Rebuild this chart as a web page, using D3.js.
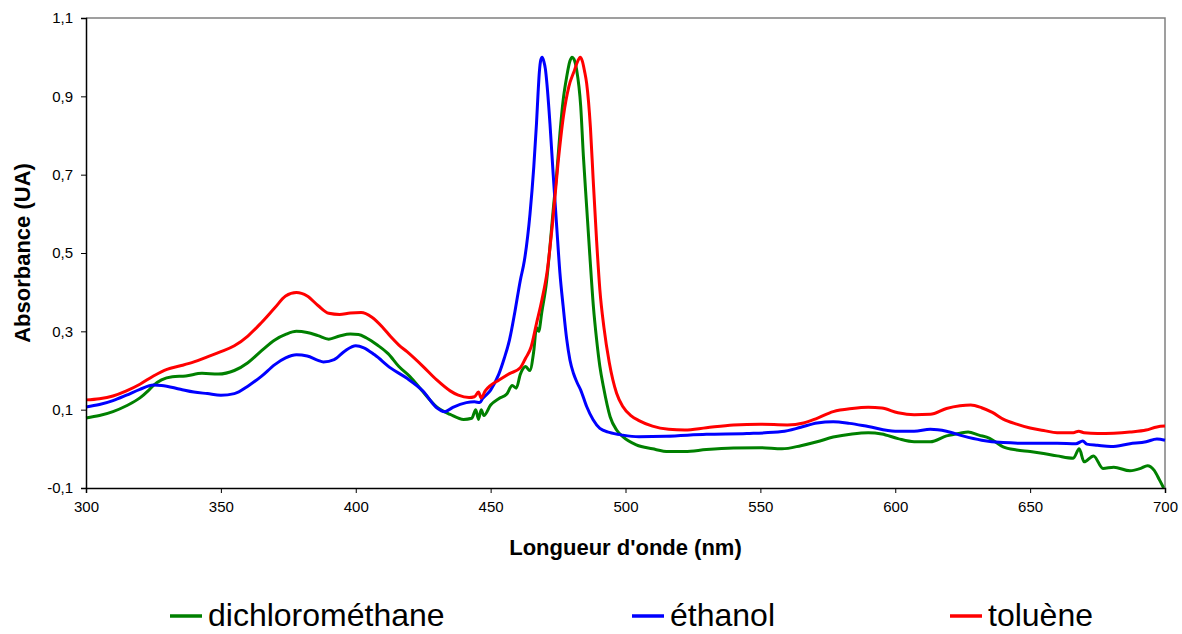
<!DOCTYPE html>
<html>
<head>
<meta charset="utf-8">
<script src="https://cdnjs.cloudflare.com/ajax/libs/d3/7.8.5/d3.min.js"></script>
<style>
    body { margin: 0; background: #fff; }
    svg { font-family: Arial, "Liberation Sans", sans-serif; }
    .tick text { font-size: 15px; fill: #000; }
    .axis-title { font-size: 22px; font-weight: bold; }
    .legend text { font-size: 32px; }
    .spectrum { fill: none; stroke-width: 3; stroke-linejoin: round; }
</style>
</head>
<body>
<div id="chart"></div>
<script>
    // [longueur d'onde (nm), absorbance (UA)]
    const dichloromethane = [
        [300,0.079],[305,0.085],[310,0.095],[315,0.11],[320,0.13],[323,0.148],[325,0.162],[328,0.176],
        [332,0.184],[337,0.186],[343,0.193],[349,0.191],[355,0.2],[360,0.22],[365,0.25],[370,0.278],
        [374,0.292],[378,0.3],[382,0.297],[386,0.289],[390,0.28],[394,0.288],[398,0.293],[401,0.292],
        [404,0.283],[408,0.265],[412,0.243],[416,0.21],[420,0.185],[425,0.145],[430,0.107],[435,0.088],
        [440,0.075],[443,0.078],[444.5,0.1],[445.5,0.075],[446.5,0.1],[447.5,0.085],[450,0.112],
        [453,0.128],[456,0.14],[458,0.162],[459.5,0.155],[461,0.19],[463,0.21],[464.5,0.2],[466,0.25],
        [467,0.31],[467.8,0.3],[469,0.35],[470.8,0.431],[472,0.516],[473.2,0.61],[474.5,0.703],
        [475.7,0.806],[476.9,0.891],[478.2,0.95],[479.4,0.99],[480.2,1.0],[480.9,0.995],[481.9,0.967],
        [483.4,0.874],[484.4,0.746],[485.6,0.618],[486.8,0.491],[488.1,0.363],[489.3,0.278],[490.5,0.21],
        [491.8,0.159],[494.3,0.082],[496.7,0.048],[499,0.031],[504,0.01],[510,0.0],[516,-0.007],
        [522,-0.007],[530,-0.002],[540,0.002],[550,0.003],[558,0.0],[565,0.008],[571,0.018],[577,0.03],
        [584,0.038],[590,0.041],[595,0.038],[601,0.026],[607,0.018],[613,0.018],[619,0.033],[624,0.04],
        [627,0.043],[631,0.035],[635,0.027],[640,0.005],[645,-0.003],[650,-0.007],[655,-0.012],
        [660,-0.018],[666,-0.024],[668.2,0.0],[670,-0.033],[673.5,-0.018],[677,-0.05],[681,-0.047],
        [687,-0.056],[691,-0.05],[693.5,-0.043],[696,-0.055],[698,-0.08],[699.5,-0.1]
    ];

    const ethanol = [
        [300,0.107],[305,0.113],[310,0.123],[315,0.137],[320,0.152],[325,0.163],[328,0.162],[335,0.152],
        [340,0.145],[345,0.141],[350,0.137],[355,0.141],[360,0.16],[365,0.185],[370,0.215],[374,0.232],
        [378,0.24],[382,0.237],[386,0.226],[388,0.222],[392,0.228],[396,0.25],[400,0.263],[403,0.258],
        [407,0.24],[413,0.206],[419,0.18],[425,0.147],[430,0.105],[433,0.095],[436,0.106],[441,0.118],
        [444,0.12],[446,0.118],[447,0.128],[450,0.15],[453,0.19],[455,0.23],[457,0.278],[459,0.35],
        [461,0.43],[462.5,0.48],[464.6,0.6],[466,0.72],[467,0.83],[467.6,0.91],[468.1,0.965],
        [468.6,0.993],[469.1,1.0],[469.7,0.99],[470.3,0.97],[470.9,0.93],[472,0.83],[473.2,0.7],
        [474.5,0.567],[475.7,0.448],[476.9,0.363],[478.2,0.28],[479.4,0.227],[480.7,0.193],[482,0.17],
        [483.4,0.15],[485.6,0.108],[488,0.074],[490.5,0.052],[494,0.042],[499,0.035],[505,0.031],
        [515,0.032],[530,0.037],[545,0.039],[558,0.044],[565,0.055],[571,0.066],[577,0.069],[583,0.065],
        [590,0.057],[600,0.045],[607,0.045],[613,0.05],[619,0.045],[625,0.033],[632,0.022],[640,0.016],
        [650,0.014],[660,0.014],[667,0.013],[669.5,0.02],[671,0.012],[675,0.009],[680,0.006],[687,0.013],
        [693,0.018],[697,0.025],[700,0.022]
    ];

    const toluene = [
        [300,0.125],[305,0.128],[310,0.135],[315,0.148],[320,0.165],[325,0.186],[330,0.203],[335,0.212],
        [340,0.222],[345,0.235],[350,0.248],[355,0.263],[360,0.288],[365,0.322],[370,0.36],[374,0.39],
        [378,0.399],[382,0.39],[386,0.366],[390,0.346],[394,0.343],[398,0.347],[402,0.348],[406,0.336],
        [410,0.31],[413,0.286],[416,0.265],[419,0.248],[425,0.21],[430,0.176],[435,0.148],[438,0.137],
        [442,0.131],[444,0.133],[445.5,0.145],[446.5,0.13],[448,0.148],[450,0.162],[453,0.175],
        [457,0.192],[461,0.207],[463,0.232],[465,0.26],[467,0.32],[469,0.38],[471,0.455],[473,0.58],
        [475,0.73],[477,0.85],[479,0.925],[481,0.965],[482.3,0.99],[483.2,1.0],[484,0.99],[484.8,0.965],
        [485.6,0.933],[487,0.82],[488,0.69],[489.3,0.53],[490.5,0.406],[492,0.31],[494,0.22],
        [496.7,0.142],[499,0.108],[502,0.085],[505,0.072],[510,0.058],[516,0.05],[522,0.048],[530,0.054],
        [540,0.061],[550,0.063],[560,0.061],[566,0.066],[571,0.078],[577,0.095],[584,0.103],[590,0.106],
        [595,0.104],[601,0.092],[607,0.087],[613,0.088],[619,0.103],[624,0.11],[628,0.112],[632,0.105],
        [636,0.093],[640,0.076],[645,0.063],[650,0.053],[655,0.047],[660,0.041],[666,0.041],[668,0.045],
        [670,0.041],[675,0.039],[681,0.04],[687,0.043],[693,0.048],[697,0.056],[700,0.058]
    ];

    const seriesNames = ['dichlorométhane', 'éthanol', 'toluène'];
    const seriesColors = ['#008000', '#0000ff', '#ff0000'];
    const xTicks = [300, 350, 400, 450, 500, 550, 600, 650, 700];
    const yTicks = [-0.1, 0.1, 0.3, 0.5, 0.7, 0.9, 1.1];

    const width = 1182, height = 634;
    const margin = { top: 18, right: 17, bottom: 146, left: 86 };

    const svg = d3.select('#chart').append('svg')
        .attr('width', width)
        .attr('height', height);

    const x = d3.scaleLinear().domain([300, 700]).range([margin.left, width - margin.right]);
    const y = d3.scaleLinear().domain([-0.1, 1.1]).range([height - margin.bottom, margin.top]);

    // french decimal comma, plain hyphen for negatives
    const fmt = d => d3.format('.1f')(d).replace('.', ',').replace('\u2212', '-');

    // plot frame (top and right edges)
    svg.append('path')
        .attr('d', `M${x(300)},${y(1.1)}H${x(700)}V${y(-0.1)}`)
        .attr('fill', 'none')
        .attr('stroke', '#808080')
        .attr('stroke-width', 1.5);

    const line = d3.line()
        .x(d => x(d[0]))
        .y(d => y(d[1]))
        .curve(d3.curveMonotoneX);

    const g = svg.append('g');
    [dichloromethane, ethanol, toluene].forEach((data, i) => {
        g.append('path')
            .datum(data)
            .attr('class', 'spectrum')
            .attr('stroke', seriesColors[i])
            .attr('d', line);
    });

    svg.append('g')
        .attr('transform', `translate(0,${y(-0.1)})`)
        .call(d3.axisBottom(x).tickValues(xTicks).tickSize(5).tickPadding(8).tickFormat(d3.format('d')))
        .call(a => a.select('.domain').attr('stroke', '#000').attr('stroke-width', 1.5))
        .call(a => a.selectAll('.tick line').attr('stroke', '#000'))
        .call(a => a.selectAll('.tick text').attr('font-family', null).attr('font-size', null));

    svg.append('g')
        .attr('transform', `translate(${x(300)},0)`)
        .call(d3.axisLeft(y).tickValues(yTicks).tickSize(5).tickPadding(8).tickFormat(fmt))
        .call(a => a.select('.domain').attr('stroke', '#000').attr('stroke-width', 1.5))
        .call(a => a.selectAll('.tick line').attr('stroke', '#000'))
        .call(a => a.selectAll('.tick text').attr('font-family', null).attr('font-size', null));

    svg.append('text')
        .attr('class', 'axis-title')
        .attr('x', (x(300) + x(700)) / 2)
        .attr('y', 555)
        .attr('text-anchor', 'middle')
        .text("Longueur d'onde (nm)");

    svg.append('text')
        .attr('class', 'axis-title')
        .attr('transform', `translate(30,${(y(-0.1) + y(1.1)) / 2}) rotate(-90)`)
        .attr('text-anchor', 'middle')
        .text('Absorbance (UA)');

    // legend
    const legendX = [170, 632, 950];
    const legend = svg.append('g').attr('class', 'legend');
    seriesNames.forEach((name, i) => {
        const item = legend.append('g').attr('transform', `translate(${legendX[i]},616)`);
        item.append('line')
            .attr('x1', 0).attr('x2', 32)
            .attr('stroke', seriesColors[i])
            .attr('stroke-width', 3.5);
        item.append('text')
            .attr('x', 38)
            .attr('y', 10)
            .text(name);
    });
</script>
</body>
</html>
